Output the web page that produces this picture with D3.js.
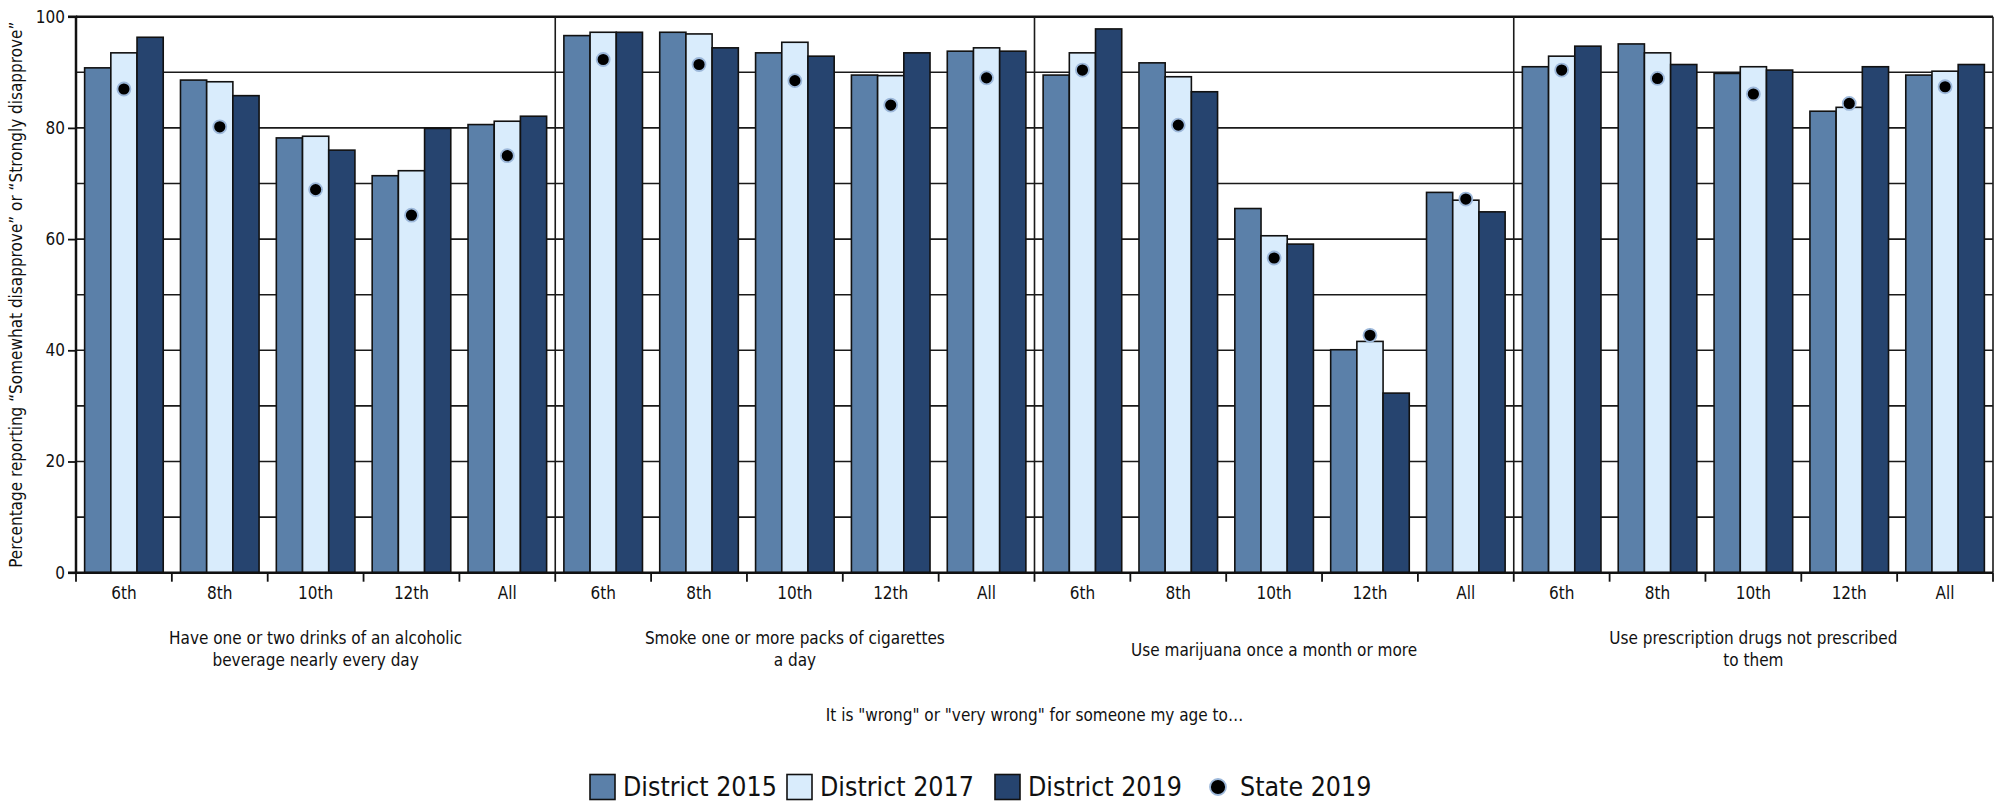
<!DOCTYPE html>
<html><head><meta charset="utf-8">
<script src="https://cdn.jsdelivr.net/npm/d3@7"></script>
<style>
body{margin:0;background:#fff;}
text{font-family:"Liberation Sans Narrow","DejaVu Sans Condensed","Liberation Sans",sans-serif;fill:#111;}
</style></head>
<body><svg id="c" width="2000" height="803"></svg>
<script>
const groups = ["Have one or two drinks of an alcoholic|beverage nearly every day","Smoke one or more packs of cigarettes|a day","Use marijuana once a month or more","Use prescription drugs not prescribed|to them"];
const grades = ["6th","8th","10th","12th","All"];
const series = ["District 2015","District 2017","District 2019"];
const d2015 = [90.8,88.6,78.2,71.4,80.6, 96.6,97.2,93.5,89.5,93.8, 89.5,91.7,65.5,40.1,68.4, 91.0,95.1,89.8,83.0,89.5];
const d2017 = [93.5,88.3,78.5,72.3,81.2, 97.2,96.9,95.4,89.4,94.4, 93.5,89.2,60.6,41.6,67.0, 92.9,93.5,91.0,83.7,90.2];
const d2019 = [96.3,85.8,76.0,79.9,82.1, 97.2,94.4,92.9,93.5,93.8, 97.8,86.5,59.1,32.3,64.9, 94.7,91.4,90.4,91.0,91.4];
const state2019 = [87.0,80.2,68.9,64.3,75.0, 92.3,91.4,88.5,84.1,89.0, 90.4,80.5,56.6,42.7,67.2, 90.4,88.9,86.1,84.4,87.4];
const yTicks = [0,20,40,60,80,100];
const gridVals = [10,20,30,40,50,60,70,80,90];
const colors = ["#5b80a9","#d9ecfc","#26446f"];
const yTitle = "Percentage reporting \u201cSomewhat disapprove\u201d or \u201cStrongly disapprove\u201d";
const xTitle = "It is \"wrong\" or \"very wrong\" for someone my age to\u2026";

const svg = d3.select("#c");
const L=76, R=1993, T=16.7, B=572.7;
const y = d3.scaleLinear().domain([0,100]).range([B,T]);
const cats = [];
groups.forEach((g,gi)=>grades.forEach((gr,ri)=>cats.push({key:gi+"_"+gr,gi,gr,idx:gi*5+ri})));
const x0 = d3.scaleBand().domain(cats.map(c=>c.key)).range([L,R]).paddingInner(0.18).paddingOuter(0.09);
const x1 = d3.scaleBand().domain(series).range([0,x0.bandwidth()]);
const gx = d3.scaleBand().domain(groups).range([L,R]);

// gridlines
svg.append("g").selectAll("line").data(gridVals).join("line")
  .attr("x1",L).attr("x2",R).attr("y1",d=>y(d)).attr("y2",d=>y(d))
  .attr("stroke","#1a1a1a").attr("stroke-width",1.6);
// top border
svg.append("line").attr("x1",L).attr("x2",R).attr("y1",y(100)).attr("y2",y(100)).attr("stroke","#111").attr("stroke-width",2.5);
// group separators
svg.append("g").selectAll("line").data(groups.slice(1)).join("line")
  .attr("x1",d=>gx(d)).attr("x2",d=>gx(d)).attr("y1",T).attr("y2",B)
  .attr("stroke","#1a1a1a").attr("stroke-width",1.6);
svg.append("line").attr("x1",R).attr("x2",R).attr("y1",T).attr("y2",B).attr("stroke","#1a1a1a").attr("stroke-width",1.6);

// bars
const vals = [d2015,d2017,d2019];
const bg = svg.append("g");
cats.forEach(c=>{
  series.forEach((s,si)=>{
    const v = vals[si][c.idx];
    bg.append("rect").attr("x",x0(c.key)+x1(s)).attr("width",x1.bandwidth())
      .attr("y",y(v)).attr("height",y(0)-y(v))
      .attr("fill",colors[si]).attr("stroke","#111").attr("stroke-width",1.6);
  });
});
// state dots
svg.append("g").selectAll("circle").data(cats).join("circle")
  .attr("cx",c=>x0(c.key)+x1("District 2017")+x1.bandwidth()/2)
  .attr("cy",c=>y(state2019[c.idx])).attr("r",6.5)
  .attr("fill","#000").attr("stroke","#9db8da").attr("stroke-width",1.8);

// axes
const yAxis = d3.axisLeft(y).tickValues(yTicks).tickSize(8).tickPadding(3).tickFormat(d3.format("d"));
const ya = svg.append("g").attr("transform",`translate(${L},0)`).call(yAxis);
ya.select(".domain").attr("stroke","#111").attr("stroke-width",2.5).attr("d",`M-8,${B}H0V${T}H-8`);
ya.selectAll(".tick line").attr("stroke","#111").attr("stroke-width",1.8);
ya.selectAll(".tick text").attr("font-size",17).attr("fill","#111").attr("font-family","Liberation Sans Narrow, DejaVu Sans Condensed, sans-serif");

// bottom axis line
svg.append("line").attr("x1",L).attr("x2",R).attr("y1",B).attr("y2",B).attr("stroke","#111").attr("stroke-width",2.5);
// bottom ticks at category boundaries
const bounds = cats.map(c=>x0(c.key)-x0.step()*x0.paddingOuter()).concat([R]);
svg.append("g").selectAll("line").data(bounds).join("line")
  .attr("x1",d=>d).attr("x2",d=>d).attr("y1",B).attr("y2",B+9)
  .attr("stroke","#111").attr("stroke-width",1.8);

// category labels
svg.append("g").selectAll("text").data(cats).join("text")
  .attr("x",c=>x0(c.key)+x0.bandwidth()/2).attr("y",B+26)
  .attr("text-anchor","middle").attr("font-size",17).text(c=>c.gr);

// group labels
groups.forEach(g=>{
  const lines = g.split("|");
  const cx = gx(g)+gx.bandwidth()/2;
  const t = svg.append("text").attr("text-anchor","middle").attr("font-size",17);
  if(lines.length===1){
    t.attr("x",cx).attr("y",656).text(lines[0]);
  } else {
    lines.forEach((ln,i)=>t.append("tspan").attr("x",cx).attr("y",644+i*22).text(ln));
  }
});
// x title
svg.append("text").attr("x",(L+R)/2).attr("y",721).attr("text-anchor","middle").attr("font-size",17).text(xTitle);
// y title
svg.append("text").attr("transform",`translate(22,${(T+B)/2}) rotate(-90)`).attr("text-anchor","middle").attr("font-size",17).text(yTitle);

// legend
const leg = svg.append("g");
const legItems = [
  {label:series[0],type:"rect",c:colors[0],x:590},
  {label:series[1],type:"rect",c:colors[1],x:787},
  {label:series[2],type:"rect",c:colors[2],x:995},
  {label:"State 2019",type:"dot",x:1206}
];
const ly = 787;
legItems.forEach(it=>{
  if(it.type==="rect"){
    leg.append("rect").attr("x",it.x).attr("y",ly-12.5).attr("width",25).attr("height",25)
      .attr("fill",it.c).attr("stroke","#111").attr("stroke-width",1.6);
    leg.append("text").attr("x",it.x+33).attr("y",ly+9).attr("font-size",26.5).text(it.label);
  } else {
    leg.append("circle").attr("cx",it.x+12).attr("cy",ly).attr("r",8).attr("fill","#000").attr("stroke","#9db8da").attr("stroke-width",1.8);
    leg.append("text").attr("x",it.x+34).attr("y",ly+9).attr("font-size",26.5).text(it.label);
  }
});
</script></body></html>
